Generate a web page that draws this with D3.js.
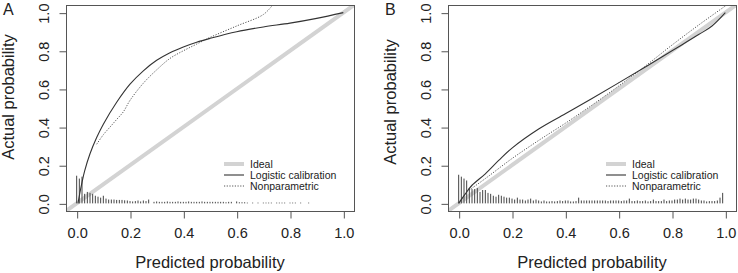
<!DOCTYPE html>
<html>
<head>
<meta charset="utf-8">
<script src="https://cdn.jsdelivr.net/npm/d3@7"></script>
<style>
  body { margin: 0; background: #fff; }
  text { font-family: "Liberation Sans", Arial, sans-serif; fill: #222; }
</style>
</head>
<body>
<div id="chart"></div>
<script>
// tick values shared by both panels
var ticks = [0, 0.2, 0.4, 0.6, 0.8, 1.0];
var legendLabels = ["Ideal", "Logistic calibration", "Nonparametric"];

// panel A - logistic calibration curve
var logisticAx = [0.005, 0.01, 0.02, 0.03, 0.05, 0.075, 0.1, 0.15, 0.2, 0.25, 0.3, 0.35, 0.4, 0.45, 0.5, 0.6, 0.7, 0.8, 0.9, 1.0];
var logisticAy = [0.0, 0.04, 0.11, 0.17, 0.26, 0.345, 0.415, 0.53, 0.625, 0.695, 0.75, 0.79, 0.82, 0.845, 0.865, 0.90, 0.925, 0.945, 0.97, 1.0];
// panel A - nonparametric curve
var nonparAx = [0.075, 0.1, 0.125, 0.15, 0.175, 0.2, 0.25, 0.3, 0.35, 0.4, 0.45, 0.5, 0.6, 0.7, 0.735];
var nonparAy = [0.31, 0.36, 0.40, 0.44, 0.48, 0.54, 0.63, 0.70, 0.76, 0.80, 0.835, 0.87, 0.93, 0.99, 1.04];
// panel A - spike histogram (x, height)
var spikeAx = [0.00, 0.01, 0.02, 0.03, 0.04, 0.05, 0.06, 0.07, 0.08, 0.09, 0.10, 0.11, 0.12, 0.13, 0.14, 0.15, 0.16, 0.17, 0.18, 0.19,
  0.20, 0.21, 0.22, 0.23, 0.24, 0.25, 0.26, 0.27, 0.29, 0.30, 0.31, 0.32, 0.33, 0.34, 0.35, 0.36, 0.37, 0.38, 0.39,
  0.40, 0.41, 0.42, 0.43, 0.44, 0.45, 0.46, 0.47, 0.48, 0.49, 0.50, 0.51, 0.52, 0.53, 0.54, 0.55, 0.56, 0.57, 0.58,
  0.60, 0.61, 0.62, 0.63, 0.64, 0.66, 0.68, 0.70, 0.71, 0.72, 0.73, 0.75, 0.76, 0.77, 0.78, 0.80, 0.81, 0.82, 0.84, 0.87];
var spikeAh = [0.145, 0.13, 0.14, 0.05, 0.06, 0.055, 0.05, 0.04, 0.035, 0.03, 0.04, 0.025, 0.02, 0.02, 0.02, 0.018, 0.018, 0.018, 0.016, 0.015,
  0.012, 0.01, 0.012, 0.015, 0.01, 0.015, 0.012, 0.02, 0.008, 0.01, 0.008, 0.008, 0.008, 0.01, 0.008, 0.008, 0.008, 0.01, 0.008,
  0.008, 0.008, 0.01, 0.008, 0.008, 0.008, 0.008, 0.01, 0.008, 0.008, 0.008, 0.008, 0.008, 0.008, 0.008, 0.008, 0.006, 0.008, 0.008,
  0.01, 0.006, 0.006, 0.006, 0.004, 0.004, 0.004, 0.004, 0.004, 0.004, 0.004, 0.004, 0.004, 0.004, 0.004, 0.004, 0.004, 0.004, 0.004, 0.004];

// panel B - logistic calibration curve
var logisticBx = [0.0, 0.025, 0.05, 0.1, 0.15, 0.2, 0.3, 0.4, 0.5, 0.6, 0.7, 0.8, 0.9, 0.95, 1.0];
var logisticBy = [0.0, 0.05, 0.095, 0.155, 0.225, 0.29, 0.39, 0.47, 0.55, 0.632, 0.715, 0.80, 0.885, 0.93, 1.0];
// panel B - nonparametric curve
var nonparBx = [0.04, 0.1, 0.2, 0.3, 0.4, 0.5, 0.6, 0.7, 0.8, 0.9, 1.0, 1.04];
var nonparBy = [0.07, 0.13, 0.235, 0.33, 0.42, 0.515, 0.615, 0.72, 0.83, 0.935, 1.035, 1.075];
// panel B - spike histogram
var spikeBx = [0.00, 0.01, 0.02, 0.03, 0.04, 0.05, 0.06, 0.07, 0.08, 0.09, 0.10, 0.11, 0.12, 0.13, 0.14, 0.15, 0.16, 0.17, 0.18, 0.19,
  0.20, 0.21, 0.22, 0.23, 0.24, 0.25, 0.26, 0.27, 0.28, 0.29, 0.30, 0.31, 0.32, 0.33, 0.34, 0.35, 0.36, 0.37, 0.38, 0.39,
  0.40, 0.41, 0.42, 0.43, 0.44, 0.45, 0.46, 0.47, 0.48, 0.49, 0.50, 0.51, 0.52, 0.53, 0.54, 0.55, 0.56, 0.57, 0.58, 0.59,
  0.60, 0.61, 0.62, 0.63, 0.64, 0.65, 0.66, 0.67, 0.68, 0.69, 0.70, 0.71, 0.72, 0.73, 0.74, 0.75, 0.76, 0.77, 0.78, 0.79,
  0.80, 0.81, 0.82, 0.83, 0.84, 0.85, 0.86, 0.87, 0.88, 0.89, 0.90, 0.91, 0.92, 0.93, 0.94, 0.95, 0.96, 0.97, 0.98, 0.99];
var spikeBh = [0.15, 0.14, 0.13, 0.12, 0.08, 0.075, 0.075, 0.08, 0.06, 0.07, 0.07, 0.055, 0.05, 0.04, 0.035, 0.045, 0.04, 0.035, 0.03, 0.03,
  0.025, 0.02, 0.03, 0.02, 0.02, 0.015, 0.02, 0.025, 0.015, 0.02, 0.015, 0.01, 0.015, 0.01, 0.01, 0.012, 0.01, 0.012, 0.015, 0.012,
  0.015, 0.015, 0.01, 0.01, 0.012, 0.03, 0.015, 0.015, 0.015, 0.015, 0.015, 0.015, 0.015, 0.015, 0.015, 0.015, 0.012, 0.015, 0.015, 0.015,
  0.015, 0.012, 0.015, 0.015, 0.025, 0.012, 0.012, 0.015, 0.012, 0.012, 0.015, 0.01, 0.012, 0.02, 0.012, 0.012, 0.012, 0.02, 0.012, 0.015,
  0.015, 0.02, 0.02, 0.025, 0.02, 0.025, 0.02, 0.02, 0.025, 0.025, 0.02, 0.015, 0.015, 0.01, 0.012, 0.012, 0.012, 0.015, 0.03, 0.055];

var svg = d3.select("#chart")
    .append("svg")
    .attr("width", 738)
    .attr("height", 273);

function drawPanel(opt) {
    var x = d3.scaleLinear().domain([-0.04, 1.04]).range([opt.left, opt.right]);
    var y = d3.scaleLinear().domain([-0.04, 1.04]).range([211, 5]);
    var g = svg.append("g");

    // clip to the plot box
    var clipId = "clip" + opt.name;
    g.append("clipPath").attr("id", clipId)
        .append("rect")
        .attr("x", opt.left).attr("y", 5)
        .attr("width", opt.right - opt.left).attr("height", 206);
    var plot = g.append("g").attr("clip-path", "url(#" + clipId + ")");

    // ideal line
    plot.append("line")
        .attr("x1", x(-0.04)).attr("y1", y(-0.04))
        .attr("x2", x(1.04)).attr("y2", y(1.04))
        .attr("stroke", "#d3d3d3")
        .attr("stroke-width", 4);

    // spike histogram
    plot.append("g")
        .selectAll("line")
        .data(opt.spikeX)
        .enter()
        .append("line")
        .attr("x1", function (d) { return x(d) })
        .attr("x2", function (d) { return x(d) })
        .attr("y1", y(0))
        .attr("y2", function (d, i) { return y(opt.spikeH[i]) })
        .attr("stroke", "#444")
        .attr("stroke-width", 1);

    var line = d3.line()
        .x(function (d) { return x(d[0]) })
        .y(function (d) { return y(d[1]) })
        .curve(d3.curveCatmullRom.alpha(0.5));

    plot.append("path")
        .datum(d3.zip(opt.nonparX, opt.nonparY))
        .attr("fill", "none")
        .attr("stroke", "#555")
        .attr("stroke-width", 1)
        .attr("stroke-dasharray", "1.2,1.5")
        .attr("d", line);

    plot.append("path")
        .datum(d3.zip(opt.logX, opt.logY))
        .attr("fill", "none")
        .attr("stroke", "#333")
        .attr("stroke-width", 1.1)
        .attr("d", line);

    // box
    g.append("rect")
        .attr("x", opt.left + 0.5).attr("y", 5.5)
        .attr("width", opt.right - opt.left).attr("height", 206)
        .attr("fill", "none")
        .attr("stroke", "#555");

    // axes
    var xAxis = g.append("g")
        .attr("transform", "translate(0.5," + 211.5 + ")")
        .call(d3.axisBottom(x).tickValues(ticks).tickFormat(d3.format(".1f")).tickSizeOuter(0).tickSize(7).tickPadding(9));
    xAxis.select(".domain").remove();
    xAxis.selectAll("line").attr("stroke", "#555");
    xAxis.selectAll("text").attr("font-size", 14.5).style("font-family", "Liberation Sans, Arial, sans-serif").attr("fill", "#222");

    var yAxis = g.append("g")
        .attr("transform", "translate(" + (opt.left + 0.5) + ",0.5)")
        .call(d3.axisLeft(y).tickValues(ticks).tickFormat(d3.format(".1f")).tickSizeOuter(0).tickSize(7));
    yAxis.select(".domain").remove();
    yAxis.selectAll("line").attr("stroke", "#555");
    yAxis.selectAll("text")
        .attr("font-size", 14.5)
        .style("font-family", "Liberation Sans, Arial, sans-serif")
        .attr("fill", "#222")
        .attr("x", null).attr("dy", null)
        .attr("text-anchor", "middle")
        .attr("transform", "translate(-18,0) rotate(-90)");

    // axis titles
    g.append("text")
        .attr("x", (x(0) + x(1)) / 2)
        .attr("y", 268)
        .attr("text-anchor", "middle")
        .attr("font-size", 16.5)
        .text("Predicted probability");
    g.append("text")
        .attr("transform", "translate(" + (opt.left - 52) + "," + opt.titleY + ") rotate(-90)")
        .attr("text-anchor", "middle")
        .attr("font-size", 16.5)
        .text("Actual probability");

    // panel letter
    g.append("text")
        .attr("x", opt.left - 63)
        .attr("y", 15)
        .attr("font-size", 16)
        .text(opt.name);

    // legend
    var lg = g.append("g");
    var styles = [
        { stroke: "#d3d3d3", width: 4, dash: null },
        { stroke: "#333", width: 1.1, dash: null },
        { stroke: "#555", width: 1, dash: "1.2,1.5" }
    ];
    legendLabels.forEach(function (label, i) {
        var ly = 164 + i * 11;
        lg.append("line")
            .attr("x1", opt.legendX).attr("x2", opt.legendX + 20)
            .attr("y1", ly).attr("y2", ly)
            .attr("stroke", styles[i].stroke)
            .attr("stroke-width", styles[i].width)
            .attr("stroke-dasharray", styles[i].dash);
        lg.append("text")
            .attr("x", opt.legendX + 26)
            .attr("y", ly + 3.5)
            .attr("font-size", 10.5)
            .text(label);
    });
}

drawPanel({ name: "A", left: 66, right: 354, legendX: 224, titleY: 97,
    logX: logisticAx, logY: logisticAy, nonparX: nonparAx, nonparY: nonparAy,
    spikeX: spikeAx, spikeH: spikeAh });
drawPanel({ name: "B", left: 448, right: 736, legendX: 606, titleY: 102,
    logX: logisticBx, logY: logisticBy, nonparX: nonparBx, nonparY: nonparBy,
    spikeX: spikeBx, spikeH: spikeBh });
</script>
</body>
</html>
